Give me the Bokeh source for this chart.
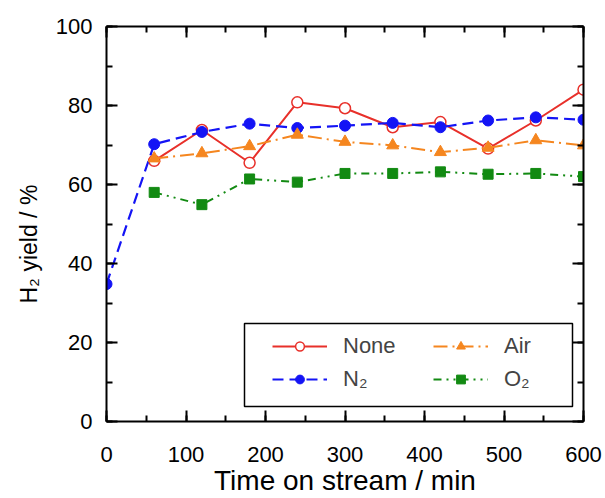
from bokeh.plotting import figure
from bokeh.models import Range1d, LinearAxis, Legend, LegendItem, FixedTicker, BoxAnnotation, Title
from bokeh.embed import file_html
from bokeh.resources import INLINE

time_n2 = [0, 60, 120, 180, 240, 300, 360, 420, 480, 540, 600]
n2 = [34.8, 70.2, 73.3, 75.4, 74.3, 74.9, 75.6, 74.5, 76.2, 77.0, 76.4]
time = [60, 120, 180, 240, 300, 360, 420, 480, 540, 600]
none = [66.0, 73.8, 65.5, 80.8, 79.3, 74.5, 75.8, 69.1, 76.2, 84.0]
air = [66.6, 67.9, 69.7, 72.6, 70.8, 69.9, 68.2, 69.3, 71.2, 69.9]
o2 = [58.0, 54.9, 61.4, 60.6, 62.8, 62.8, 63.2, 62.6, 62.8, 62.0]
x_ticks = [0, 100, 200, 300, 400, 500, 600]
y_ticks = [0, 20, 40, 60, 80, 100]

FONT = "Liberation Sans"
RED, BLUE, ORANGE, GREEN = "#e8302a", "#1414f5", "#f5861f", "#128a12"

p = figure(width=605, height=498, output_backend="svg", toolbar_location=None,
           x_range=Range1d(0, 600), y_range=Range1d(0, 100),
           min_border_left=106, min_border_right=22, min_border_top=26, min_border_bottom=75)
p.xgrid.visible = False
p.ygrid.visible = False
p.outline_line_color = None
p.background_fill_color = "white"
p.border_fill_color = "white"


def style_axis(ax, ticks, minor, labels=True):
    ax.ticker = FixedTicker(ticks=ticks, minor_ticks=minor)
    ax.axis_line_width = 2
    ax.axis_line_color = "black"
    ax.major_tick_line_width = 2
    ax.minor_tick_line_width = 2
    ax.major_tick_in = 11
    ax.major_tick_out = 0
    ax.minor_tick_in = 6
    ax.minor_tick_out = 0
    ax.major_label_text_font = FONT
    ax.major_label_text_font_size = "22px"
    ax.major_label_text_line_height = 0.9
    ax.major_label_text_color = "black" if labels else None
    ax.axis_label_text_font = FONT
    ax.axis_label_text_font_style = "normal"
    ax.axis_label_text_line_height = 0.9
    ax.axis_label_text_color = "black"


x_minor = list(range(0, 601, 50))
y_minor = list(range(0, 101, 10))
style_axis(p.xaxis[0], x_ticks, x_minor)
style_axis(p.yaxis[0], y_ticks, y_minor)
p.xaxis[0].axis_label = "Time on stream / min"
p.xaxis[0].axis_label_text_font_size = "28px"
p.xaxis[0].major_label_standoff = 25
p.yaxis[0].major_label_standoff = 14
p.xaxis[0].axis_label_standoff = 0

ytitle = Title(text="H\u2082 yield / %", align="left", offset=118,
               text_font=FONT, text_font_size="23px", text_font_style="normal",
               text_color="black", standoff=22)
p.add_layout(ytitle, "left")

ra = LinearAxis()
style_axis(ra, y_ticks, y_minor, labels=False)
ra.major_label_text_font_size = "0px"
p.add_layout(ra, "right")
ta = LinearAxis()
style_axis(ta, x_ticks, x_minor, labels=False)
ta.major_label_text_font_size = "0px"
p.add_layout(ta, "above")

l_none = p.line(time, none, line_color=RED, line_width=2)
m_none = p.scatter(time, none, marker="circle", size=11, fill_color="white", line_color=RED, line_width=1.5)

l_n2 = p.line(time_n2, n2, line_color=BLUE, line_width=2.2, line_dash="11 6")
m_n2 = p.scatter(time_n2, n2, marker="circle", size=11, fill_color=BLUE, line_color=BLUE)

l_air = p.line(time, air, line_color=ORANGE, line_width=2, line_dash="14 5 2 5")
m_air = p.scatter(time, air, marker="triangle", size=12, fill_color=ORANGE, line_color=ORANGE)

l_o2 = p.line(time, o2, line_color=GREEN, line_width=2, line_dash="8 5 2 5 2 5")
m_o2 = p.scatter(time, o2, marker="square", size=10, fill_color=GREEN, line_color=GREEN)

# screen units here are relative to the frame's bottom-left corner
box = BoxAnnotation(left=138, right=466, top=98, bottom=15,
                    left_units="screen", right_units="screen", top_units="screen", bottom_units="screen",
                    fill_color="white", fill_alpha=1, line_color="black", line_alpha=1, line_width=1.5)
p.add_layout(box)

legend = Legend(items=[
    LegendItem(label="None", renderers=[l_none, m_none]),
    LegendItem(label="N\u2082", renderers=[l_n2, m_n2]),
    LegendItem(label="Air", renderers=[l_air, m_air]),
    LegendItem(label="O\u2082", renderers=[l_o2, m_o2]),
], ncols=2)
legend.location = (166, 29)
legend.border_line_color = None
legend.background_fill_alpha = 0
legend.label_text_font = FONT
legend.label_text_font_size = "22px"
legend.glyph_width = 55
legend.glyph_height = 22
legend.label_height = 22
legend.label_width = 83
legend.label_standoff = 16
legend.spacing = 7
legend.padding = 8
legend.margin = 0
p.add_layout(legend, "center")

open("out.html", "w").write(file_html(p, INLINE))
